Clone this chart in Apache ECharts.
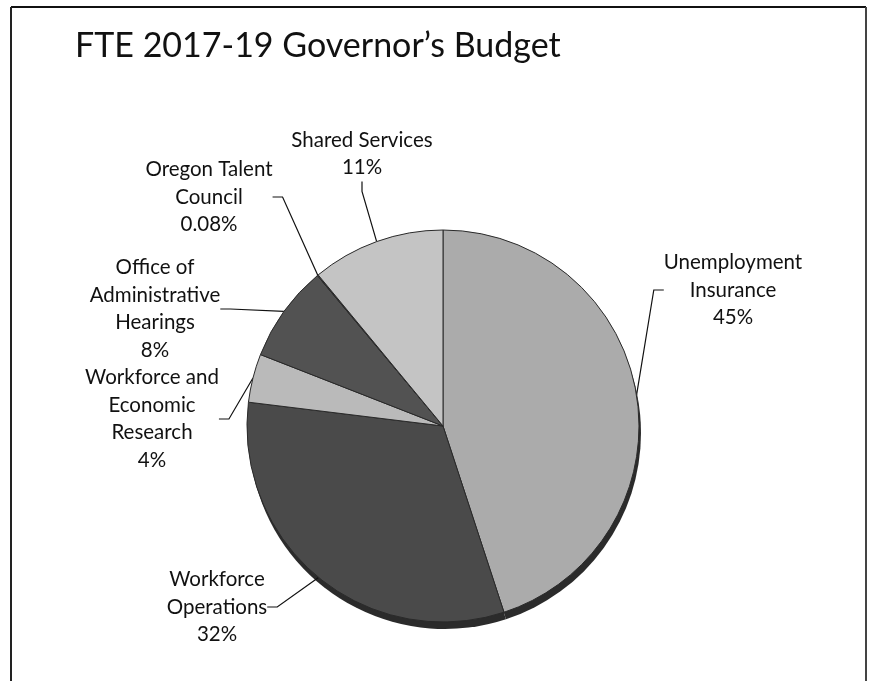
<!DOCTYPE html>
<html>
<head>
<meta charset="utf-8">
<title>FTE 2017-19 Governor's Budget</title>
<script src="https://cdn.jsdelivr.net/npm/echarts@6/dist/echarts.min.js"></script>
<style>
  html, body { margin: 0; padding: 0; background: #fff; }
  #chart { width: 872px; height: 681px; }
</style>
</head>
<body>
<div id="chart"></div>
<script>
// FTE share by program area (percent of total)
const categories = [
  'Unemployment\nInsurance',
  'Workforce\nOperations',
  'Workforce and\nEconomic\nResearch',
  'Office of\nAdministrative\nHearings',
  'Oregon Talent\nCouncil',
  'Shared Services'
];
const shares = [45, 32, 4, 8, 0.08, 11];

// Slice fills (greyscale)
const sliceColors = ['#ababab', '#4a4a4a', '#bababa', '#525252', '#3a3a3a', '#c4c4c4'];

// Where each label block is centred
const labelCenters = [[733, 290], [217, 607], [152, 419], [155, 309], [209, 197], [362, 154]];

const FONT = 'Lato, "Open Sans", sans-serif';
const pieCenter = [443, 426];
const pieRadius = 196;

const pieData = categories.map((name, i) => ({
  name: name,
  value: shares[i],
  itemStyle: { color: sliceColors[i] }
}));

const chart = echarts.init(document.getElementById('chart'), null, { renderer: 'canvas' });

chart.setOption({
  backgroundColor: '#ffffff',
  animation: false,
  title: {
    text: 'FTE 2017-19 Governor\u2019s Budget',
    left: 70,
    top: 24,
    textStyle: { fontFamily: FONT, fontSize: 34, fontWeight: 'normal', color: '#111' }
  },
  graphic: [
    // page frame
    { type: 'line', shape: { x1: 11, y1: 7, x2: 866, y2: 7 }, style: { stroke: '#111', lineWidth: 2 } },
    { type: 'line', shape: { x1: 11, y1: 7, x2: 11, y2: 681 }, style: { stroke: '#222', lineWidth: 2 } },
    { type: 'line', shape: { x1: 866, y1: 7, x2: 866, y2: 681 }, style: { stroke: '#444', lineWidth: 2 } }
  ],
  series: [
    {
      // dark rim under the pie, giving it a little depth
      type: 'pie',
      silent: true,
      z: 1,
      center: [pieCenter[0] + 2, pieCenter[1] + 7],
      radius: pieRadius,
      startAngle: 90,
      label: { show: false },
      labelLine: { show: false },
      itemStyle: { color: '#2b2b2b', borderWidth: 0 },
      data: categories.map((name, i) => ({ name: name, value: shares[i] }))
    },
    {
      type: 'pie',
      z: 2,
      center: pieCenter,
      radius: pieRadius,
      startAngle: 90,
      clockwise: true,
      avoidLabelOverlap: false,
      minShowLabelAngle: 0,
      itemStyle: { borderColor: '#2a2a2a', borderWidth: 1 },
      label: {
        show: true,
        fontFamily: FONT,
        fontSize: 20.5,
        lineHeight: 27.5,
        color: '#111',
        align: 'center',
        formatter: p => p.name + '\n' + p.value + '%'
      },
      labelLine: {
        show: true,
        length: 20,
        length2: 10,
        lineStyle: { color: '#111', width: 1.2 }
      },
      labelLayout: p => {
        const c = labelCenters[p.dataIndex];
        return { x: c[0], y: c[1], align: 'center', verticalAlign: 'middle' };
      },
      data: pieData
    }
  ]
});
</script>
</body>
</html>
